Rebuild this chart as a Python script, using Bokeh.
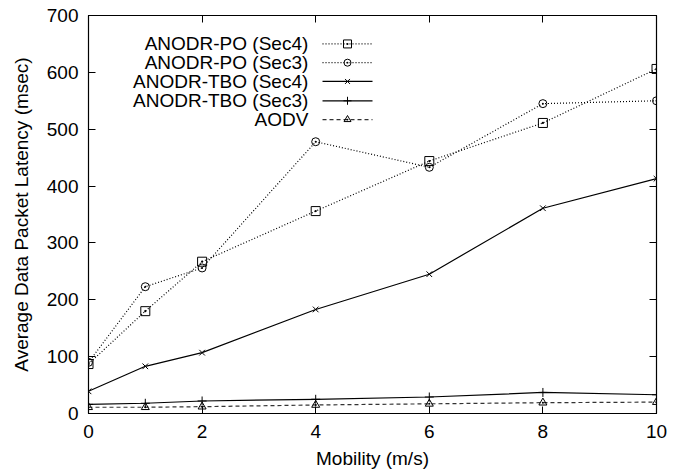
from bokeh.plotting import figure
from bokeh.models import LinearAxis, FixedTicker, Range1d, Label, CustomJSTickFormatter
from bokeh.embed import file_html
from bokeh.resources import INLINE

mobility = [0, 1, 2, 4, 6, 8, 10]
po_sec4 = [87, 180, 267, 356, 444, 511, 606]
po_sec3 = [90, 223, 256, 478, 433, 545, 550]
tbo_sec4 = [39, 83, 107, 183, 245, 361, 413]
tbo_sec3 = [16, 18, 22, 25, 29, 37, 33]
aodv = [11, 11, 12, 15, 17, 19, 20]

names = ["ANODR-PO (Sec4)", "ANODR-PO (Sec3)", "ANODR-TBO (Sec4)", "ANODR-TBO (Sec3)", "AODV"]
series = [po_sec4, po_sec3, tbo_sec4, tbo_sec3, aodv]
markers = ["square_dot", "circle_dot", "x", "cross", "triangle_dot"]
msizes = [9, 8, 8, 9, 8]
dashes = ["1 2", "1 2", "solid", "solid", "4 3"]
colors = ["black", "black", "black", "black", "#333333"]

x_ticks = [0, 2, 4, 6, 8, 10]
y_ticks = [0, 100, 200, 300, 400, 500, 600, 700]

FONT = "Liberation Sans"

p = figure(width=681, height=473, output_backend="svg", toolbar_location=None,
           x_range=Range1d(0, 10), y_range=Range1d(0, 700),
           min_border_left=88, min_border_right=25, min_border_top=15, min_border_bottom=60)
p.grid.visible = False
p.outline_line_color = "black"
p.outline_line_width = 1.2
p.background_fill_color = "white"

for ax in [p.xaxis[0], p.yaxis[0]]:
    ax.major_tick_in = 7
    ax.major_tick_out = 0
    ax.minor_tick_in = 0
    ax.minor_tick_out = 0
    ax.axis_line_color = "black"
    ax.major_label_text_font = FONT
    ax.major_label_text_font_size = "19px"
    ax.major_label_text_color = "black"
    ax.axis_label_text_font = FONT
    ax.axis_label_text_font_size = "19px"
    ax.axis_label_text_font_style = "normal"
    ax.axis_label_text_color = "black"
p.xaxis[0].ticker = FixedTicker(ticks=x_ticks)
p.yaxis[0].ticker = FixedTicker(ticks=y_ticks)
p.xaxis[0].axis_label = "Mobility (m/s)"
p.yaxis[0].axis_label = "Average Data Packet Latency (msec)"
p.xaxis[0].major_label_standoff = 11
p.xaxis[0].axis_label_standoff = 7
p.yaxis[0].major_label_standoff = 10
p.yaxis[0].axis_label_standoff = 12

top = LinearAxis(ticker=FixedTicker(ticks=x_ticks))
right = LinearAxis(ticker=FixedTicker(ticks=y_ticks))
for ax in [top, right]:
    ax.major_tick_in = 7
    ax.major_tick_out = 0
    ax.minor_tick_in = 0
    ax.minor_tick_out = 0
    ax.formatter = CustomJSTickFormatter(code="return '';")
    ax.major_label_standoff = 0
    ax.axis_line_color = "black"
p.add_layout(top, "above")
p.add_layout(right, "right")

for ys, mk, ms, dash, col in zip(series, markers, msizes, dashes, colors):
    p.line(mobility, ys, line_color=col, line_width=1.2, line_dash=dash)
    p.scatter(mobility, ys, marker=mk, size=ms, line_color="black", fill_alpha=0, line_width=1)

# legend (text right-aligned, sample to the right), like gnuplot
leg_text_x = 3.87
leg_line = [4.12, 5.0]
leg_mark_x = 4.56
leg_y = [650, 617, 584, 550, 517]
for name, mk, ms, dash, col, ly in zip(names, markers, msizes, dashes, colors, leg_y):
    p.add_layout(Label(x=leg_text_x, y=ly, text=name, text_align="right", text_baseline="middle",
                       text_font=FONT, text_font_size="19px", text_color="black"))
    p.line(leg_line, [ly, ly], line_color=col, line_width=1.2, line_dash=dash)
    p.scatter([leg_mark_x], [ly], marker=mk, size=ms - 1, line_color="black", fill_alpha=0, line_width=1)

open("out.html", "w").write(file_html(p, INLINE))
